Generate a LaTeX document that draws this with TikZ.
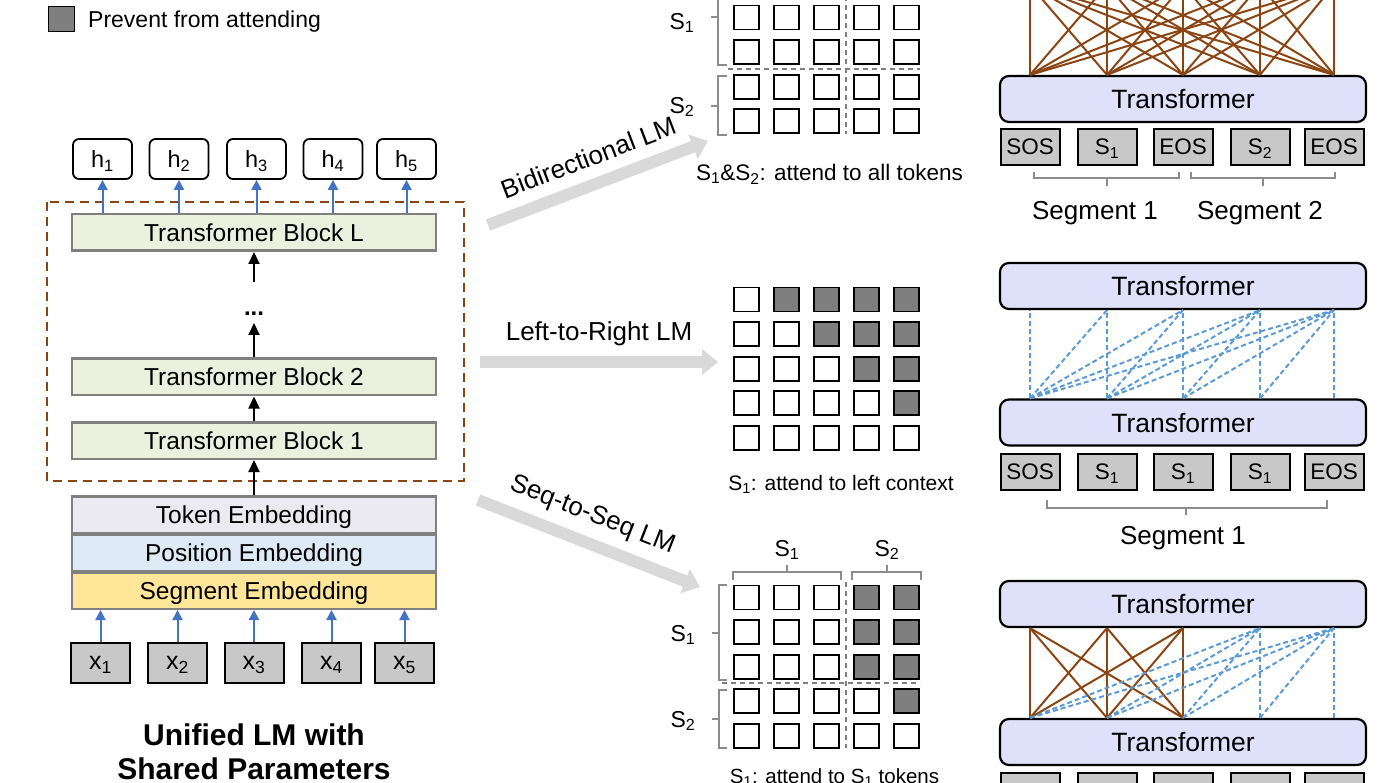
\documentclass[tikz,border=0pt]{standalone}
\usepackage{fontspec}
\setmainfont{Liberation Sans}
\usetikzlibrary{arrows.meta, positioning}
\definecolor{blockgreen}{HTML}{EBF1DE}
\definecolor{tokgray}{HTML}{C8C8C8}
\definecolor{maskgray}{HTML}{7F7F7F}
\definecolor{edgegray}{HTML}{808080}
\definecolor{transblue}{HTML}{DFE0FA}
\definecolor{tokemb}{HTML}{ECEAF1}
\definecolor{posemb}{HTML}{DEEAF6}
\definecolor{segemb}{HTML}{FFE699}
\definecolor{brownline}{HTML}{8B4513}
\definecolor{arrowblue}{HTML}{4472C4}
\definecolor{dashblue}{HTML}{5B9BD5}
\definecolor{bigarrow}{HTML}{D9D9D9}
\definecolor{brackgray}{HTML}{8C8C8C}
\tikzset{%
	every block/.style={
		draw=edgegray,
		line width=2.5pt,
		inner sep=0pt,
		text depth=0pt,
		minimum width=364pt,
		minimum height=36.5pt,
		font=\fontsize{24.5}{29}\selectfont
	},
	hbox/.style={
		draw, rounded corners=6pt, line width=1.8pt, fill=white,
		minimum width=59pt, minimum height=40pt, inner sep=0pt, text depth=0pt,
		font=\fontsize{23.5}{27}\selectfont
	},
	xbox/.style={
		draw, line width=2pt, fill=tokgray,
		minimum width=59pt, minimum height=40pt, inner sep=0pt, text depth=0pt,
		font=\fontsize{25}{29}\selectfont
	},
	trans/.style={
		draw, rounded corners=9pt, line width=2.2pt, fill=transblue,
		minimum width=366pt, minimum height=46pt, inner sep=0pt, text depth=0pt,
		font=\fontsize{26.5}{31}\selectfont
	},
	tok/.style={
		draw, line width=2pt, fill=tokgray,
		minimum width=59pt, minimum height=36pt, inner sep=0pt, text depth=0pt,
		font=\fontsize{22.5}{27}\selectfont
	},
	cell/.style={
		draw, line width=1.8pt, fill=white,
		minimum width=25pt, minimum height=24pt, inner sep=0pt
	},
	plain/.style={inner sep=0pt, text depth=0pt, font=\fontsize{23}{27}\selectfont},
	biglabel/.style={inner sep=0pt, text depth=0pt, text=black, font=\fontsize{26}{31}\selectfont},
	bluearrow/.style={arrowblue, line width=2pt, -{Triangle[width=10pt,length=10pt]}},
	blackarrow/.style={black, line width=2pt, -{Triangle[width=11pt,length=12pt]}},
	bigarrowline/.style={bigarrow, line width=12pt, -{Triangle[width=25pt,length=16pt]}},
	attn full/.style={brownline, line width=2pt},
	attn left/.style={dashblue, line width=2pt, dash pattern=on 5pt off 3pt},
	split/.style={edgegray, line width=1.6pt, dash pattern=on 5pt off 4pt},
	bracket/.style={brackgray, line width=2pt},
	sharedbox/.style={brownline, line width=2.2pt, dash pattern=on 9pt off 6pt}
}
\begin{document}
\begin{tikzpicture}[x=1pt, y=-1pt]
	\useasboundingbox (0,0) rectangle (1392,783);
	\clip (0,0) rectangle (1392,783);

	% legend
	\node [cell, fill=maskgray, minimum width=26pt, minimum height=25pt, line width=1.5pt] (legend-box) at (61.5,19) {};
	\node [plain, anchor=base west] (legend-text) at (88,28) {Prevent from attending};

	% unified LM (left)
	\draw [sharedbox] (47,202) rectangle (464,481);
	\node [every block/.try, fill=blockgreen] (blockL) at (254,232.5) {Transformer Block L};
	\node [every block/.try, fill=blockgreen] (block2) at (254,377) {Transformer Block 2};
	\node [every block/.try, fill=blockgreen] (block1) at (254,440.5) {Transformer Block 1};
	\node [inner sep=0pt, font=\bfseries\fontsize{24}{28}\selectfont] (dots) at (254,314) {...};
	\coordinate (gap-lo) at (254,323);
	\coordinate (gap-hi) at (254,282);

	\node [every block/.try, fill=tokemb] (tok-emb) at (254,514.5) {Token Embedding};
	\node [every block/.try, fill=posemb] (pos-emb) at (254,552.5) {Position Embedding};
	\node [every block/.try, fill=segemb] (seg-emb) at (254,590.5) {Segment Embedding};

	\foreach \x [count=\i] in {102.5,179,256.5,333,406.5}
	\node [hbox] (h-\i) at (\x,159) {h\textsubscript{\i}};

	\foreach \x [count=\i] in {100.5,177.5,254,331.5,404.5}
	\node [xbox] (x-\i) at (\x,663) {x\textsubscript{\i}};

	\foreach \i in {1,...,5}
	\draw [bluearrow] (h-\i.south |- blockL.north) -- (h-\i.south);

	\foreach \i in {1,...,5}
	\draw [bluearrow] (x-\i.north) -- (x-\i.north |- seg-emb.south);

	\draw [blackarrow] (tok-emb.north) -- (block1.south);
	\draw [blackarrow] (block1.north) -- (block2.south);
	\draw [blackarrow] (block2.north) -- (gap-lo);
	\draw [blackarrow] (gap-hi) -- (blockL.south);

	\node [inner sep=0pt, align=center, font=\bfseries\fontsize{30}{34}\selectfont] (title) at (254,752) {Unified LM with\\Shared Parameters};

	% big arrows
	\coordinate (bi-start) at (488,225);
	\coordinate (bi-end) at (708,141);
	\coordinate (lr-start) at (480,362);
	\coordinate (lr-end) at (718,362);
	\coordinate (ss-start) at (478,500);
	\coordinate (ss-end) at (700,587);
	\draw [bigarrowline] (bi-start) -- (bi-end)
	node [biglabel, midway, sloped, above=12pt] (bi-label) {Bidirectional LM};
	\draw [bigarrowline] (lr-start) -- (lr-end)
	node [biglabel, midway, above=15pt] (lr-label) {Left-to-Right LM};
	\draw [bigarrowline] (ss-start) -- (ss-end)
	node [biglabel, pos=0.47, sloped, above=15pt] (ss-label) {Seq-to-Seq LM};

	% attention masks
	\foreach \i in {1,...,5}
	\foreach \j in {1,...,5}
	\node [cell] (bi-\i-\j) at ({746.5+40*(\j-1)},{-17.1+34.6*(\i-1)}) {};

	\foreach \i in {1,...,5}
	\foreach \j in {1,...,5} {
		\ifnum\j>\i \def\cellfill{maskgray}\else\def\cellfill{white}\fi
		\node [cell, fill=\cellfill] (lr-\i-\j) at ({746.5+40*(\j-1)},{299.5+34.6*(\i-1)}) {};
	}

	\foreach \i in {1,...,5}
	\foreach \j in {1,...,5} {
		\def\cellfill{white}
		\ifnum\j>3 \ifnum\j>\i \def\cellfill{maskgray}\fi\fi
		\node [cell, fill=\cellfill] (ss-\i-\j) at ({746.5+40*(\j-1)},{597.5+34.6*(\i-1)}) {};
	}

	\draw [split] (846,-40) -- (846,134);
	\draw [split] (728,69.3) -- (920,69.3);
	\draw [split] (846,582) -- (846,748);
	\draw [split] (722,683) -- (920,683);

	\draw [bracket] (727,-30) -- (718,-30) -- (718,65) -- (727,65) (718,17.5) -- (711,17.5);
	\draw [bracket] (727,76) -- (718,76) -- (718,135) -- (727,135) (718,106) -- (711,106);
	\draw [bracket] (727,585) -- (719,585) -- (719,680) -- (727,680) (719,633) -- (712,633);
	\draw [bracket] (727,690) -- (719,690) -- (719,748) -- (727,748) (719,719) -- (712,719);
	\draw [bracket] (733,580) -- (733,572) -- (841,572) -- (841,580) (787,572) -- (787,565);
	\draw [bracket] (852,580) -- (852,572) -- (921,572) -- (921,580) (887,572) -- (887,565);

	\node [plain] (bi-s1) at (682,21) {S\textsubscript{1}};
	\node [plain] (bi-s2) at (682,105) {S\textsubscript{2}};
	\node [plain] (ss-s1) at (683,633) {S\textsubscript{1}};
	\node [plain] (ss-s2) at (683,719) {S\textsubscript{2}};
	\node [plain] (ss-top1) at (787,548) {S\textsubscript{1}};
	\node [plain] (ss-top2) at (887,548) {S\textsubscript{2}};

	\node [plain, font=\fontsize{22.5}{27}\selectfont] (bi-caption) at (829.5,172) {S\textsubscript{1}\&S\textsubscript{2}: attend to all tokens};
	\node [plain, font=\fontsize{21}{25}\selectfont] (lr-caption) at (841,483) {S\textsubscript{1}: attend to left context};
	\node [plain, anchor=base, font=\fontsize{20.5}{25}\selectfont] (ss-caption) at (834.5,783) {S\textsubscript{1}: attend to S\textsubscript{1} tokens};

	% transformers (right)
	\node [trans] (bi-upper) at (1183,-39) {Transformer};
	\node [trans] (bi-lower) at (1183,99) {Transformer};
	\foreach \x/\t [count=\i] in {1030/SOS,1107/S\textsubscript{1},1183/EOS,1260/S\textsubscript{2},1334/EOS}
	\node [tok] (bi-tok-\i) at (\x,147) {\t};

	\node [trans] (lr-upper) at (1183,286) {Transformer};
	\node [trans] (lr-lower) at (1183,422.5) {Transformer};
	\foreach \x/\t [count=\i] in {1030/SOS,1107/S\textsubscript{1},1183/S\textsubscript{1},1260/S\textsubscript{1},1334/EOS}
	\node [tok] (lr-tok-\i) at (\x,471.5) {\t};

	\node [trans] (ss-upper) at (1183,604) {Transformer};
	\node [trans] (ss-lower) at (1183,742) {Transformer};
	\foreach \x [count=\i] in {1030,1107,1183,1260,1334}
	\node [tok] (ss-tok-\i) at (\x,791) {};

	\foreach \i in {1,...,5}
	\foreach \j in {1,...,5}
	\draw [attn full] (bi-tok-\i |- bi-lower.north) -- (bi-tok-\j |- bi-upper.south);

	\foreach \i in {1,...,5}
	\foreach \j in {\i,...,5}
	\draw [attn left] (lr-tok-\i |- lr-lower.north) -- (lr-tok-\j |- lr-upper.south);

	\foreach \i in {1,...,3}
	\foreach \j in {1,...,3}
	\draw [attn full] (ss-tok-\i |- ss-lower.north) -- (ss-tok-\j |- ss-upper.south);

	\foreach \j in {4,5}
	\foreach \i in {1,...,\j}
	\draw [attn left] (ss-tok-\i |- ss-lower.north) -- (ss-tok-\j |- ss-upper.south);

	\draw [bracket] (1034,172) -- (1034,178) -- (1179,178) -- (1179,172) (1107,178) -- (1107,186);
	\draw [bracket] (1191,172) -- (1191,178) -- (1335,178) -- (1335,172) (1263,178) -- (1263,186);
	\draw [bracket] (1047,500) -- (1047,508) -- (1327,508) -- (1327,500) (1186,508) -- (1186,515);
	\node [biglabel] (bi-seg1) at (1095,210) {Segment 1};
	\node [biglabel] (bi-seg2) at (1260,210) {Segment 2};
	\node [biglabel] (lr-seg1) at (1183,535) {Segment 1};

\end{tikzpicture}
\end{document}
